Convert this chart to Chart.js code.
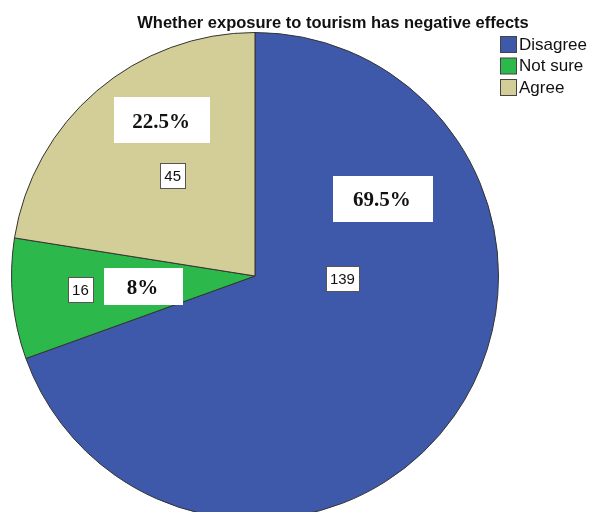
<!DOCTYPE html>
<html>
<head>
<meta charset="utf-8">
<script src="https://cdn.jsdelivr.net/npm/chart.js@4/dist/chart.umd.min.js"></script>
<style>
  html, body { margin: 0; padding: 0; background: #fff; overflow: hidden; }
  #wrap { position: relative; width: 590px; height: 540px; }
</style>
</head>
<body>
<div id="wrap"><canvas id="pie"></canvas></div>
<script>
// Survey responses
const chartTitle = 'Whether exposure to tourism has negative effects';
const categories = ['Disagree', 'Not sure', 'Agree'];
const counts = [139, 16, 45];
const sliceColors = ['#3E58AA', '#2DB84C', '#D3CE98'];

// Where each slice's labels sit, as fractions of the radius from the centre
const countLabelPos = [[0.359, 0.012], [-0.717, 0.055], [-0.338, -0.412]];
const pctLabelPos = [[0.525, -0.316], [-0.458, 0.044], [-0.381, -0.639]];
const pctBoxSize = [[100, 46], [79, 37], [96, 46]];

const total = counts.reduce((a, b) => a + b, 0);
const pctText = v => Number((v / total * 100).toFixed(1)) + '%';

const overlay = {
  id: 'overlay',
  afterDraw(chart) {
    const ctx = chart.ctx;
    const meta = chart.getDatasetMeta(0);
    const arc0 = meta.data[0];
    const cx = arc0.x, cy = arc0.y, r = arc0.outerRadius;
    ctx.save();

    // title
    ctx.fillStyle = '#111';
    ctx.font = 'bold 16.5px "Liberation Sans", Arial, sans-serif';
    ctx.textAlign = 'center';
    ctx.textBaseline = 'alphabetic';
    ctx.fillText(chartTitle, 333, 28);

    // legend
    ctx.font = '17px "Liberation Sans", Arial, sans-serif';
    ctx.textAlign = 'left';
    ctx.textBaseline = 'middle';
    categories.forEach((c, i) => {
      const y = 36 + i * 21.5;
      ctx.fillStyle = sliceColors[i];
      ctx.fillRect(500.5, y + 0.5, 16, 16);
      ctx.strokeStyle = '#444';
      ctx.lineWidth = 1;
      ctx.strokeRect(500.5, y + 0.5, 16, 16);
      ctx.fillStyle = '#111';
      ctx.fillText(c, 519, y + 9);
    });

    // percentage labels
    counts.forEach((v, i) => {
      const px = cx + pctLabelPos[i][0] * r;
      const py = cy + pctLabelPos[i][1] * r;
      const [w, h] = pctBoxSize[i];
      ctx.fillStyle = '#fff';
      ctx.fillRect(Math.round(px - w / 2), Math.round(py - h / 2), w, h);
      ctx.fillStyle = '#111';
      ctx.font = 'bold 21px "Liberation Serif", "Times New Roman", serif';
      ctx.textAlign = 'center';
      ctx.textBaseline = 'middle';
      ctx.fillText(pctText(v), px - 1, py + 2);
    });

    // count labels
    ctx.font = '15px "Liberation Sans", Arial, sans-serif';
    counts.forEach((v, i) => {
      const px = cx + countLabelPos[i][0] * r;
      const py = cy + countLabelPos[i][1] * r;
      const t = String(v);
      const w = Math.round(ctx.measureText(t).width + 8);
      const h = 25;
      const x0 = Math.round(px - w / 2) + 0.5, y0 = Math.round(py - h / 2) + 0.5;
      ctx.fillStyle = '#fff';
      ctx.fillRect(x0, y0, w, h);
      ctx.strokeStyle = '#555';
      ctx.lineWidth = 1;
      ctx.strokeRect(x0, y0, w, h);
      ctx.fillStyle = '#111';
      ctx.textAlign = 'center';
      ctx.textBaseline = 'middle';
      ctx.fillText(t, px, py + 1);
    });
    ctx.restore();
  }
};

new Chart(document.getElementById('pie'), {
  type: 'pie',
  data: {
    labels: categories,
    datasets: [{
      data: counts,
      backgroundColor: sliceColors,
      borderColor: '#333',
      borderWidth: 1
    }]
  },
  options: {
    responsive: true,
    maintainAspectRatio: false,
    animation: false,
    layout: { padding: { left: 11, right: 91, top: 32, bottom: 20 } },
    plugins: {
      legend: { display: false },
      title: { display: false },
      tooltip: { enabled: false }
    }
  },
  plugins: [overlay]
});
</script>
</body>
</html>
